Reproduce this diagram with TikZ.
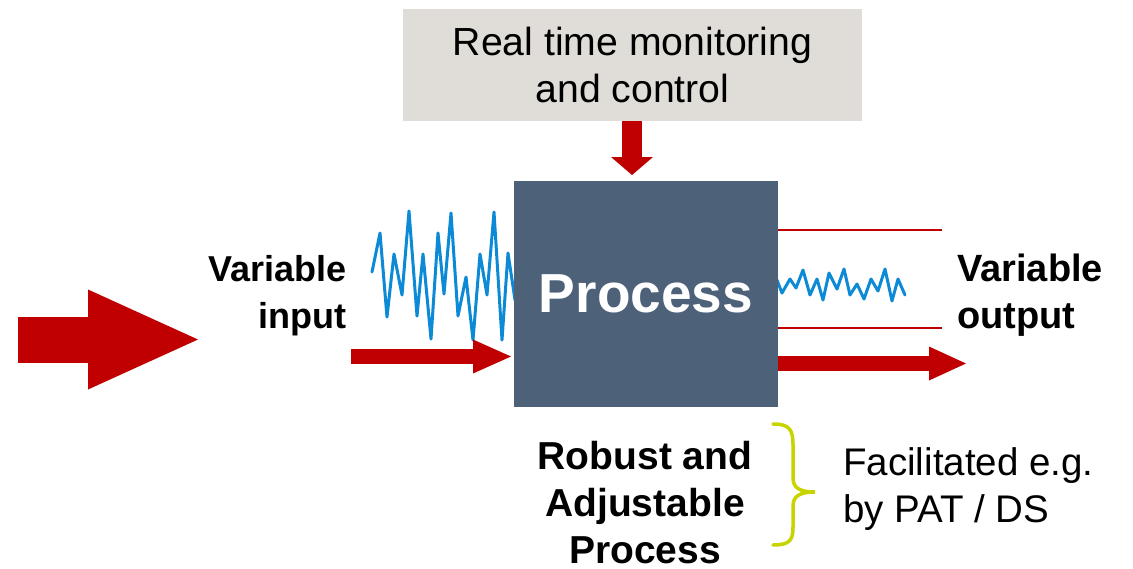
\documentclass[tikz,border=0pt]{standalone}
\usepackage{fontspec}
\setmainfont{Liberation Sans}
\usetikzlibrary{arrows.meta}
\definecolor{pred}{RGB}{192,0,0}
\definecolor{pbox}{RGB}{77,97,121}
\definecolor{pgray}{RGB}{224,221,216}
\definecolor{pblue}{RGB}{12,138,214}
\definecolor{plime}{RGB}{200,212,0}
\begin{document}
\begin{tikzpicture}[x=1pt,y=-1pt,
  reg/.style={font=\fontsize{38.5}{47}\selectfont, inner sep=0pt},
  bld/.style={font=\bfseries\fontsize{#1}{47}\selectfont, inner sep=0pt},
  noise/.style={pblue, line width=3pt, line join=round, line cap=round},
  redline/.style={pred, line width=2.5pt},
  blockarrow/.style n args={3}{pred, line width=#1,
    -{Triangle[length=#2, width=#3, line width=0pt]}}
]
\useasboundingbox (0,0) rectangle (1133,568);

% noise traces (drawn before the box so it covers their ends)
\draw[noise] (372,272) -- (380,233) -- (387,317) -- (394,254) -- (402,295)
  -- (409,211) -- (417,316) -- (423,254) -- (431,339) -- (438,233)
  -- (444,294) -- (451,213) -- (458,316) -- (466,277) -- (473,340)
  -- (480,254) -- (487,295) -- (494,212) -- (502,340) -- (508,253) -- (515,300);
\draw[noise] (777,280) -- (782,293) -- (790,279) -- (796,288) -- (803,270)
  -- (810,295) -- (817,279) -- (823,300) -- (829,273) -- (837,289)
  -- (844,269) -- (850,295) -- (857,284) -- (864,299) -- (871,279)
  -- (878,291) -- (885,269) -- (892,301) -- (898,279) -- (905,295);

% boxes
\node[fill=pgray, minimum width=459pt, minimum height=112pt, inner sep=0pt,
      align=center, font=\fontsize{39.2}{47}\selectfont] (ctrl) at (632.5,65)
      {Real time monitoring\\and control};
\node[fill=pbox, minimum width=264pt, minimum height=226pt, inner sep=0pt,
      text=white, font=\bfseries\fontsize{55}{66}\selectfont] (proc) at (646,294)
      {\raisebox{-3pt}{Process}};

% labels
\node[bld=36, align=right, anchor=base east] (vin) at (347,328) {Variable\\input};
\node[bld=38, align=left, anchor=base west] (vout) at (957,328) {Variable\\output};
\node[bld=39, align=center, anchor=base] (robust) at (645,563) {Robust and\\Adjustable\\Process};
\node[reg, align=left, anchor=base west] (facil) at (843,522) {Facilitated e.g.\\by PAT / DS};

% coordinates
\coordinate (bigA) at (18,339.5);
\coordinate (bigB) at (198,339.5);
\coordinate (inA) at (351,356.5);
\coordinate (inB) at (511,356.5);
\coordinate (outB) at (966,363.5);
\coordinate (dnB) at (632,175);
\coordinate (lim1) at (942,230);
\coordinate (lim2) at (942,328);

% arrows
\draw[blockarrow={46pt}{110pt}{100pt}] (bigA) -- (bigB);
\draw[blockarrow={15pt}{38pt}{34pt}] (inA) -- (inB);
\draw[blockarrow={15pt}{37pt}{34pt}] (proc.east |- outB) -- (outB);
\draw[blockarrow={20pt}{18pt}{42pt}] (ctrl.south -| dnB) -- (dnB);

% tolerance lines
\draw[redline] (proc.east |- lim1) -- (lim1);
\draw[redline] (proc.east |- lim2) -- (lim2);

% brace
\draw[plime, line width=3.5pt, line cap=round]
  (773,424) .. controls (790,424) and (793,430) .. (793,445) -- (793,478)
  .. controls (793,488) and (800,492) .. (815,492)
  .. controls (800,492) and (793,496) .. (793,506) -- (793,527)
  .. controls (793,540) and (790,545) .. (773,545);
\end{tikzpicture}
\end{document}
